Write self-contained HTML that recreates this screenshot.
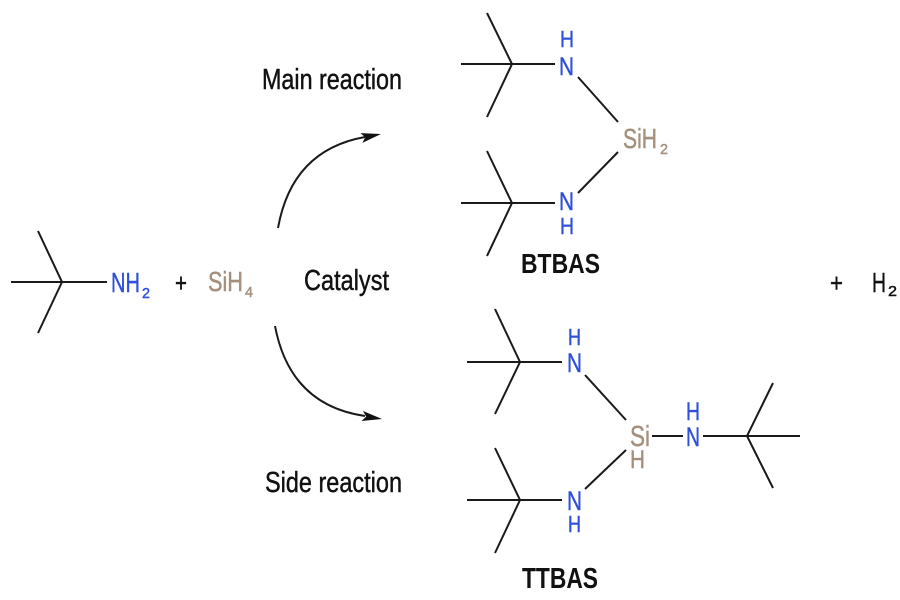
<!DOCTYPE html>
<html>
<head>
<meta charset="utf-8">
<style>
  html, body { margin: 0; padding: 0; background: #ffffff; }
  svg { display: block; }
  text { font-family: "Liberation Sans", Arial, sans-serif; stroke-width: 0.45px; }
  .k { fill: #111111; stroke: #111111; }
  .b { fill: #2f50d8; stroke: #2f50d8; }
  .s { fill: #a58f7d; stroke: #a58f7d; }
  .bold { stroke-width: 0; }
</style>
</head>
<body>
<svg width="900" height="600" viewBox="0 0 900 600" xmlns="http://www.w3.org/2000/svg">
  <rect width="900" height="600" fill="#ffffff"/>

  <!-- bonds -->
  <g stroke="#1a1a1a" stroke-width="2" fill="none" stroke-linecap="butt">
    <!-- tert-butylamine -->
    <line x1="11" y1="282" x2="107" y2="282"/>
    <polyline points="38,231 62,282 38,333"/>

    <!-- BTBAS upper -->
    <line x1="461" y1="64" x2="555" y2="64"/>
    <polyline points="487,13 512,64 487,117"/>
    <line x1="578" y1="77" x2="618" y2="122"/>
    <!-- BTBAS lower -->
    <line x1="461" y1="203" x2="555" y2="203"/>
    <polyline points="487,151 512,203 487,256"/>
    <line x1="618" y1="152" x2="578" y2="193"/>

    <!-- TTBAS upper -->
    <line x1="467" y1="362" x2="562" y2="362"/>
    <polyline points="495,309 520,362 495,414"/>
    <line x1="585" y1="375" x2="626" y2="420"/>
    <!-- TTBAS lower -->
    <line x1="467" y1="500" x2="562" y2="500"/>
    <polyline points="495,448 520,500 495,553"/>
    <line x1="626" y1="450" x2="585" y2="489"/>
    <!-- TTBAS right -->
    <line x1="652" y1="436" x2="683" y2="436"/>
    <line x1="703" y1="436" x2="800" y2="436"/>
    <polyline points="773,383 747,436 773,488"/>

    <!-- curved arrows -->
    <path d="M278,228 Q292,150 365,137"/>
    <path d="M275,326 Q290,405 365,416"/>
  </g>
  <polygon points="381,134 360.4,133.1 365.3,137.2 362.4,142.9" fill="#111"/>
  <polygon points="382,419 363,411 366.2,416.6 361.5,421" fill="#111"/>

  <!-- labels -->
  <text class="k" x="262" y="89" font-size="29" textLength="140" lengthAdjust="spacingAndGlyphs">Main reaction</text>
  <text class="k" x="304" y="290" font-size="29" textLength="85" lengthAdjust="spacingAndGlyphs">Catalyst</text>
  <text class="k" x="265" y="492" font-size="29" textLength="137" lengthAdjust="spacingAndGlyphs">Side reaction</text>

  <!-- reactants -->
  <text class="b" x="111" y="292" font-size="28" textLength="29" lengthAdjust="spacingAndGlyphs">NH</text>
  <text class="b" x="142" y="298" font-size="15" textLength="8" lengthAdjust="spacingAndGlyphs">2</text>
  <text class="k" x="175" y="292" font-size="26" textLength="12" lengthAdjust="spacingAndGlyphs">+</text>
  <text class="s" x="208" y="291" font-size="28" textLength="35" lengthAdjust="spacingAndGlyphs">SiH</text>
  <text class="s" x="245" y="297" font-size="15" textLength="8" lengthAdjust="spacingAndGlyphs">4</text>

  <!-- + H2 -->
  <text class="k" x="830" y="292" font-size="26" textLength="13" lengthAdjust="spacingAndGlyphs">+</text>
  <text class="k" x="872" y="292" font-size="28" textLength="14" lengthAdjust="spacingAndGlyphs">H</text>
  <text class="k" x="888" y="296" font-size="15" textLength="9" lengthAdjust="spacingAndGlyphs">2</text>

  <!-- BTBAS atoms -->
  <text class="b" x="560" y="47" font-size="23" textLength="14" lengthAdjust="spacingAndGlyphs">H</text>
  <text class="b" x="559" y="75" font-size="25" textLength="15" lengthAdjust="spacingAndGlyphs">N</text>
  <text class="s" x="623" y="148" font-size="28" textLength="34" lengthAdjust="spacingAndGlyphs">SiH</text>
  <text class="s" x="660" y="154" font-size="15" textLength="8" lengthAdjust="spacingAndGlyphs">2</text>
  <text class="b" x="559" y="210" font-size="25" textLength="15" lengthAdjust="spacingAndGlyphs">N</text>
  <text class="b" x="560" y="234" font-size="23" textLength="14" lengthAdjust="spacingAndGlyphs">H</text>
  <text class="k bold" x="521" y="273" font-size="28" font-weight="bold" textLength="79" lengthAdjust="spacingAndGlyphs">BTBAS</text>

  <!-- TTBAS atoms -->
  <text class="b" x="568" y="345" font-size="23" textLength="13" lengthAdjust="spacingAndGlyphs">H</text>
  <text class="b" x="567" y="372" font-size="27" textLength="15" lengthAdjust="spacingAndGlyphs">N</text>
  <text class="s" x="630" y="446" font-size="29" textLength="20" lengthAdjust="spacingAndGlyphs">Si</text>
  <text class="s" x="630" y="468" font-size="25" textLength="15" lengthAdjust="spacingAndGlyphs">H</text>
  <text class="b" x="686" y="420" font-size="25" textLength="14" lengthAdjust="spacingAndGlyphs">H</text>
  <text class="b" x="686" y="446" font-size="27" textLength="14" lengthAdjust="spacingAndGlyphs">N</text>
  <text class="b" x="567" y="510" font-size="27" textLength="15" lengthAdjust="spacingAndGlyphs">N</text>
  <text class="b" x="568" y="532" font-size="23" textLength="13" lengthAdjust="spacingAndGlyphs">H</text>
  <text class="k bold" x="522" y="588" font-size="29" font-weight="bold" textLength="76" lengthAdjust="spacingAndGlyphs">TTBAS</text>
</svg>
</body>
</html>
